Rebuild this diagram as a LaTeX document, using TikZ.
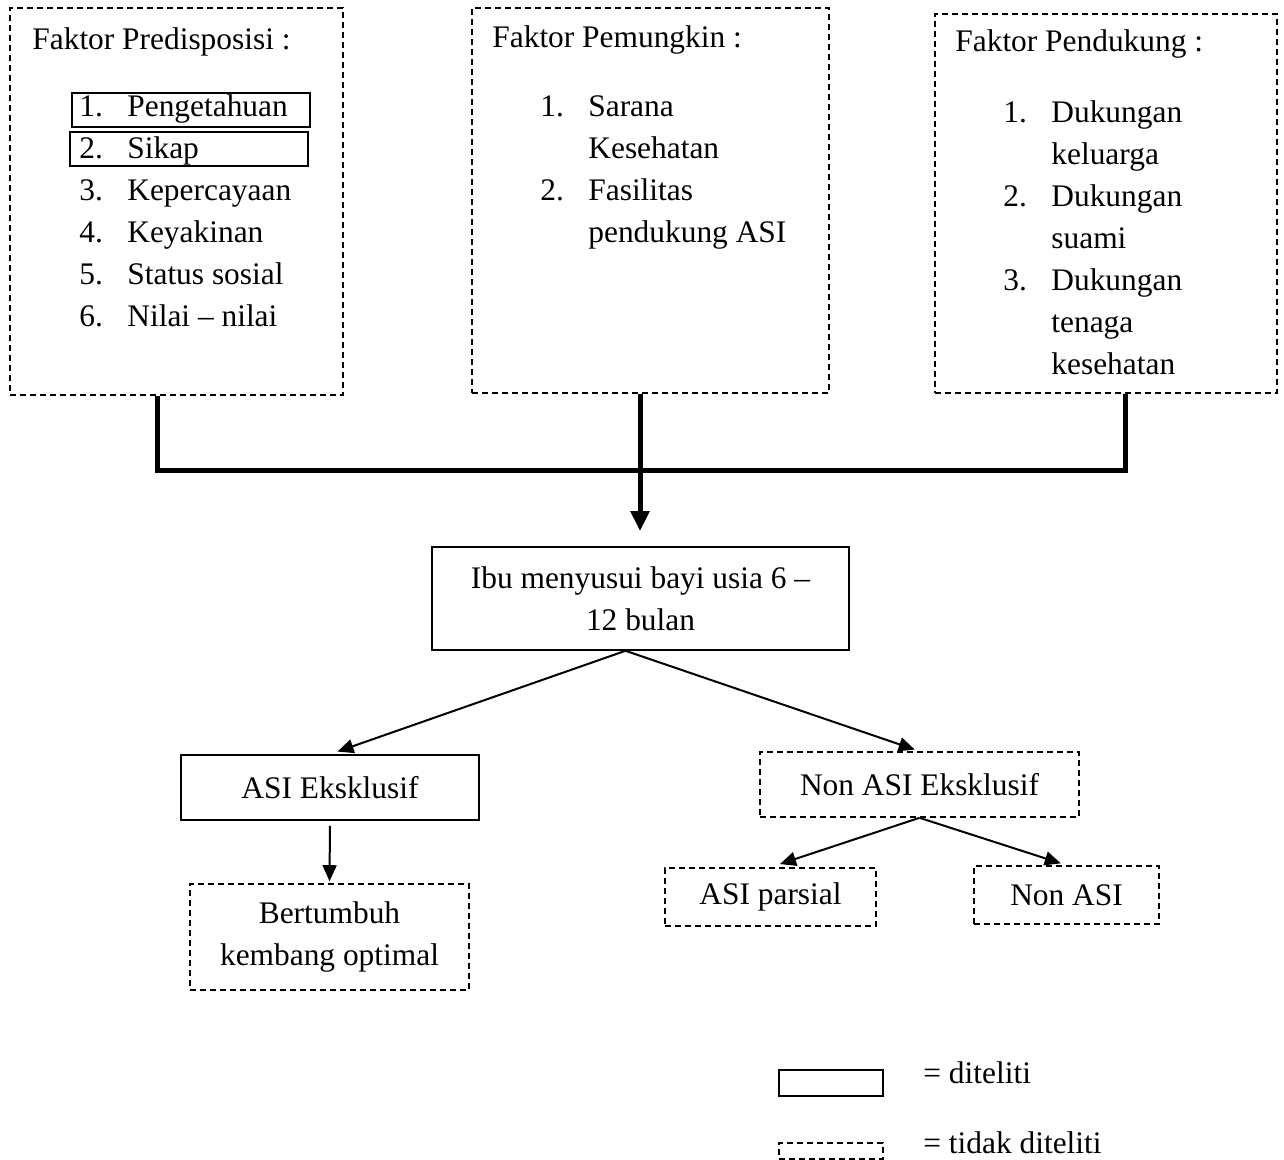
\documentclass[tikz,border=0pt]{standalone}
\usepackage{fontspec}
\setmainfont{Liberation Serif}
\usetikzlibrary{positioning,fit,arrows.meta}
\tikzset{
    sbox/.style={
    rectangle,draw=black,line width=0.8pt,inner sep=0pt,align=center
    },
    dbox/.style={
    rectangle,draw=black,line width=0.8pt,dash pattern=on 3pt off 2pt,inner sep=0pt,align=center
    },
  txt/.style={anchor=base west, inner sep=0pt},
  bus/.style={draw, line width=2.5pt},
  bigarr/.style={draw, line width=2.5pt, -{Triangle[length=10pt,width=9pt]}},
  arr/.style={draw, line width=1pt, -{Triangle[length=8pt,width=7pt]}}
}

\begin{document}
\begin{tikzpicture}[x=0.5pt,y=-0.5pt,font=\fontsize{15.7}{21}\selectfont]
    \useasboundingbox (0,0) rectangle (1284,1160);

    % three factor boxes
    \node[dbox,fit={(10,8) (343,395)}] (pre) {};
    \node[dbox,fit={(472,8) (829,393)}] (pem) {};
    \node[dbox,fit={(935,14) (1277,393)}] (pen) {};

    \node[txt] (prehead) at (32,50) {Faktor Predisposisi :};
    \node[txt] (pemhead) at (492,48) {Faktor Pemungkin :};
    \node[txt] (penhead) at (955,52) {Faktor Pendukung :};

    \node[txt] (prelist) at (79,117) {\begin{tabular}[t]{@{}p{24pt}@{}l@{}}
      1. & Pengetahuan\\ 2. & Sikap\\ 3. & Kepercayaan\\
      4. & Keyakinan\\ 5. & Status sosial\\ 6. & Nilai -- nilai
    \end{tabular}};
    \node[sbox,fit={(72,93) (310,127)}] (pengbox) {};
    \node[sbox,fit={(70,132) (308,166)}] (sikapbox) {};

    \node[txt] (pemlist) at (540,117) {\begin{tabular}[t]{@{}p{24pt}@{}l@{}}
      1. & Sarana\\ & Kesehatan\\ 2. & Fasilitas\\ & pendukung ASI
    \end{tabular}};

    \node[txt] (penlist) at (1003,123) {\begin{tabular}[t]{@{}p{24pt}@{}l@{}}
      1. & Dukungan\\ & keluarga\\ 2. & Dukungan\\ & suami\\
      3. & Dukungan\\ & tenaga\\ & kesehatan
    \end{tabular}};

    % main flow
    \node[sbox,minimum width=208.5pt,minimum height=51.5pt] (ibu) at (640.5,598.5) {Ibu menyusui bayi usia 6 --\\12 bulan};
    \node[sbox,minimum width=149pt,minimum height=32.5pt] (asi) at (330,787.5) {ASI Eksklusif};
    \node[dbox,minimum width=159.5pt,minimum height=32.5pt] (non) at (919.5,784.5) {Non ASI Eksklusif};
    \node[dbox,minimum width=139.5pt,minimum height=53pt] (bert) at (329.5,937) {Bertumbuh\\kembang optimal};
    \node[dbox,minimum width=105.5pt,minimum height=29pt] (asip) at (770.5,897) {ASI parsial};
    \node[dbox,minimum width=92.5pt,minimum height=29pt] (nonasi) at (1066.5,895) {Non ASI};

    % legend
    \node[sbox,fit={(779,1070) (883,1096)}] (legs) {};
    \node[dbox,fit={(779,1143) (883,1159)}] (legd) {};
    \node[txt] (legstxt) at (923,1083) {= diteliti};
    \node[txt] (legdtxt) at (923,1153) {= tidak diteliti};

    \coordinate (jl) at (157,470);
    \coordinate (jm) at (640,470);
    \coordinate (jr) at (1125,470);

    \path[bus] (pre.south -| jl) -- (jl) -- (jr) -- (pen.south -| jr);
    \path[bigarr,shorten >=7.5pt] (pem.south -| jm) -- (ibu.north -| jm);

    \path[arr,shorten >=4pt] ([xshift=-7.5pt]ibu.south) -- (asi.north);
    \path[arr,shorten >=2.5pt] ([xshift=-7.5pt]ibu.south) -- (non.north);
    \path[arr,shorten <=2.5pt,shorten >=1pt] (asi.south) -- (bert.north);
    \path[arr,shorten >=5pt] (non.south) -- (asip.north);
    \path[arr,shorten >=3pt] (non.south) -- (nonasi.north);

  \end{tikzpicture}
\end{document}
